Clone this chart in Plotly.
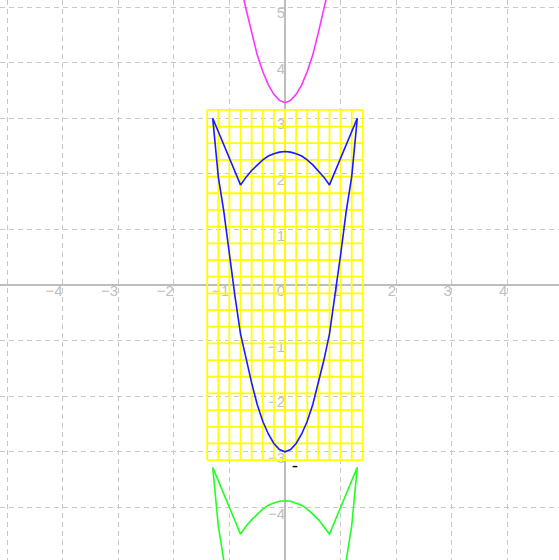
import plotly.graph_objects as go

# ---- data ----
x_tick_values = [-4, -3, -2, -1, 0, 1, 2, 3, 4, 5]
x_tick_labels = ["\u22124", "\u22123", "\u22122", "\u22121", "0", "1", "2", "3", "4", "5"]
y_tick_values = [-4, -3, -2, -1, 1, 2, 3, 4, 5]
y_tick_labels = ["\u22124", "\u22123", "\u22122", "\u22121", "1", "2", "3", "4", "5"]

# yellow grid rectangle lines
yellow_x_lines = [-1.4, -1.2, -1.0, -0.8, -0.6, -0.4, -0.2, 0.0, 0.2, 0.4, 0.6, 0.8, 1.0, 1.2, 1.4]
yellow_y_lines = [-3.15, -2.85, -2.55, -2.25, -1.95, -1.65, -1.35, -1.05, -0.75, -0.45, -0.15,
                  0.15, 0.45, 0.75, 1.05, 1.35, 1.65, 1.95, 2.25, 2.55, 2.85, 3.15]

# blue closed curve (outer branch then inner branch)
blue_x = [-1.3, -1.2, -1.1, -1.0, -0.9, -0.8, -0.7, -0.6, -0.5, -0.4, -0.3, -0.2, -0.1, 0.0,
          0.1, 0.2, 0.3, 0.4, 0.5, 0.6, 0.7, 0.8, 0.9, 1.0, 1.1, 1.2, 1.3,
          0.8, 0.7, 0.6, 0.5, 0.4, 0.3, 0.2, 0.1, 0.0, -0.1, -0.2, -0.3, -0.4, -0.5, -0.6, -0.7, -0.8, -1.3]
blue_y = [3.0, 1.95, 1.32, 0.54, -0.2, -0.88, -1.35, -1.76, -2.15, -2.45, -2.68, -2.85, -2.96, -3.0,
          -2.96, -2.85, -2.68, -2.45, -2.15, -1.76, -1.35, -0.88, -0.2, 0.54, 1.32, 1.95, 3.0,
          1.8, 1.94, 2.06, 2.16, 2.25, 2.32, 2.36, 2.39, 2.4, 2.39, 2.36, 2.32, 2.25, 2.16, 2.06, 1.94, 1.8, 3.0]

# green closed curve (lower copy)
green_x = [-1.3, -1.2, -1.1, -1.0, -0.9, -0.8, -0.7, -0.6, -0.5, -0.4, -0.3, -0.2, -0.1, 0.0,
           0.1, 0.2, 0.3, 0.4, 0.5, 0.6, 0.7, 0.8, 0.9, 1.0, 1.1, 1.2, 1.3,
           0.8, 0.7, 0.6, 0.5, 0.4, 0.3, 0.2, 0.1, 0.0, -0.1, -0.2, -0.3, -0.4, -0.5, -0.6, -0.7, -0.8, -1.3]
green_y = [-3.28, -4.33, -4.96, -5.74, -6.48, -7.16, -7.63, -8.04, -8.43, -8.73, -8.96, -9.13, -9.24, -9.28,
           -9.24, -9.13, -8.96, -8.73, -8.43, -8.04, -7.63, -7.16, -6.48, -5.74, -4.96, -4.33, -3.28,
           -4.48, -4.34, -4.22, -4.12, -4.03, -3.96, -3.92, -3.89, -3.88, -3.89, -3.92, -3.96, -4.03, -4.12, -4.22, -4.34, -4.48, -3.28]

# magenta curve (upper copy, only lower branch visible)
magenta_x = [-1.0, -0.9, -0.8, -0.7, -0.6, -0.5, -0.4, -0.3, -0.2, -0.1, 0.0,
             0.1, 0.2, 0.3, 0.4, 0.5, 0.6, 0.7, 0.8, 0.9, 1.0]
magenta_y = [6.82, 6.08, 5.4, 4.96, 4.54, 4.14, 3.84, 3.6, 3.43, 3.32, 3.28,
             3.32, 3.43, 3.6, 3.84, 4.14, 4.54, 4.96, 5.4, 6.08, 6.82]

marker_x = [0.18]
marker_y = [-3.28]
marker_text = ["-"]

# ---- figure ----
fig = go.Figure()

label_font = dict(family="Liberation Sans, Arial, sans-serif", size=15, color="#c0c0c0")

# tick labels (drawn first so the grids and curves lie over them)
fig.add_trace(go.Scatter(x=x_tick_values, y=[0] * len(x_tick_values), mode="text",
                         text=x_tick_labels, textposition="bottom left", textfont=label_font,
                         hoverinfo="skip", showlegend=False, cliponaxis=False))
fig.add_trace(go.Scatter(x=[0] * len(y_tick_values), y=y_tick_values, mode="text",
                         text=y_tick_labels, textposition="bottom left", textfont=label_font,
                         hoverinfo="skip", showlegend=False, cliponaxis=False))

# yellow grid
gx, gy = [], []
for xv in yellow_x_lines:
    gx += [xv, xv, None]
    gy += [yellow_y_lines[0], yellow_y_lines[-1], None]
for yv in yellow_y_lines:
    gx += [yellow_x_lines[0], yellow_x_lines[-1], None]
    gy += [yv, yv, None]
fig.add_trace(go.Scatter(x=gx, y=gy, mode="lines", line=dict(color="#ffff00", width=1.8),
                         hoverinfo="skip", showlegend=False))

fig.add_trace(go.Scatter(x=magenta_x, y=magenta_y, mode="lines",
                         line=dict(color="#ff33ff", width=1.6), showlegend=False))
fig.add_trace(go.Scatter(x=blue_x, y=blue_y, mode="lines",
                         line=dict(color="#1a1aff", width=1.6), showlegend=False))
fig.add_trace(go.Scatter(x=green_x, y=green_y, mode="lines",
                         line=dict(color="#22ff22", width=1.6), showlegend=False))

fig.add_trace(go.Scatter(x=marker_x, y=marker_y, mode="text", text=marker_text,
                         textposition="middle center",
                         textfont=dict(family="Liberation Sans, Arial", size=19, color="#000000"),
                         hoverinfo="skip", showlegend=False))

axis_common = dict(showgrid=True, gridcolor="#c8c8c8", griddash="5px,4px", gridwidth=1,
                   tick0=0, dtick=1, showticklabels=False, ticks="",
                   zeroline=True, zerolinecolor="#bdbdbd", zerolinewidth=1.5,
                   showline=False, fixedrange=True)

fig.update_layout(
    width=559, height=560,
    margin=dict(l=0, r=0, t=0, b=0),
    paper_bgcolor="#ffffff", plot_bgcolor="#ffffff",
    xaxis=dict(range=[-5.126, 4.928], **axis_common),
    yaxis=dict(range=[-4.946, 5.126], **axis_common),
    showlegend=False,
)

fig.write_html("out.html", config={"displayModeBar": False},
               post_script="document.body.style.margin='0';document.body.style.overflow='hidden';")
